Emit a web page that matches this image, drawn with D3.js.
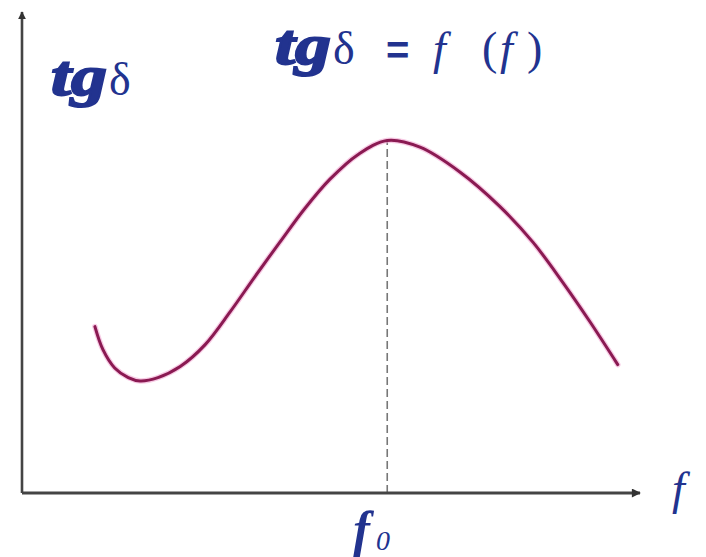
<!DOCTYPE html>
<html>
<head>
<meta charset="utf-8">
<script src="https://cdn.jsdelivr.net/npm/d3@7"></script>
<style>
  body { margin: 0; background: #fff; }
  svg { display: block; }
  .lbl { fill: #22338f; font-family: "Liberation Serif", "DejaVu Serif", serif; }
</style>
</head>
<body>
<div id="chart"></div>
<script>
// curve (arbitrary units, 0..100 on both axes)
const freq = [11.8, 13.1, 15.0, 17.2, 19.1, 22.0, 25.6, 29.6, 33.7, 37.7, 41.7, 45.8, 49.8, 54.4, 59.1, 64.4, 70.9, 77.3, 82.7, 87.5, 91.9, 96.4];
const tgd  = [34.6, 29.8, 26.0, 24.0, 23.3, 24.0, 26.3, 30.8, 37.7, 45.0, 52.1, 59.2, 65.2, 70.4, 73.3, 71.9, 66.7, 59.6, 52.1, 43.8, 35.6, 26.7];
const f0 = 59.1;

const data = freq.map((f, i) => ({ f: f, t: tgd[i] }));
const peak = d3.max(data, d => d.t);

const W = 706, H = 557;
const margin = { top: 12, right: 66, bottom: 64, left: 22 };

const svg = d3.select("#chart")
    .append("svg")
    .attr("width", W)
    .attr("height", H);

const x = d3.scaleLinear()
    .domain([0, 100])
    .range([margin.left, W - margin.right]);

const y = d3.scaleLinear()
    .domain([0, 100])
    .range([H - margin.bottom, margin.top]);

// arrow heads
svg.append("defs").append("marker")
    .attr("id", "arr")
    .attr("viewBox", "0 0 10 10")
    .attr("refX", 9).attr("refY", 5)
    .attr("markerWidth", 4).attr("markerHeight", 3)
    .attr("markerUnits", "strokeWidth")
    .attr("orient", "auto")
    .append("path")
    .attr("d", "M0,0 L10,5 L0,10 z")
    .attr("fill", "#333");

// dashed line at f0
svg.append("line")
    .attr("x1", x(f0)).attr("x2", x(f0))
    .attr("y1", y(0)).attr("y2", y(peak))
    .attr("stroke", "#777")
    .attr("stroke-width", 1.6)
    .attr("stroke-dasharray", "8,4");

// axes
svg.append("line")
    .attr("x1", x(0)).attr("y1", y(0))
    .attr("x2", x(0)).attr("y2", y(100))
    .attr("stroke", "#444").attr("stroke-width", 2.6)
    .attr("marker-end", "url(#arr)");

svg.append("line")
    .attr("x1", x(0)).attr("y1", y(0))
    .attr("x2", x(100)).attr("y2", y(0))
    .attr("stroke", "#444").attr("stroke-width", 3)
    .attr("marker-end", "url(#arr)");

// the curve
const line = d3.line()
    .x(d => x(d.f))
    .y(d => y(d.t))
    .curve(d3.curveCatmullRom.alpha(0.5));

svg.append("path")
    .datum(data)
    .attr("fill", "none")
    .attr("stroke", "#f2a6d2")
    .attr("stroke-width", 5.5)
    .attr("stroke-linecap", "round")
    .attr("opacity", 0.6)
    .attr("d", line);

svg.append("path")
    .datum(data)
    .attr("fill", "none")
    .attr("stroke", "#8a1a52")
    .attr("stroke-width", 3)
    .attr("stroke-linecap", "round")
    .attr("d", line);

// labels
function tg(t) {
    t.append("tspan")
        .attr("font-weight", "bold")
        .attr("font-style", "italic")
        .attr("stroke", "#22338f")
        .attr("stroke-width", 2)
        .attr("textLength", 56)
        .attr("lengthAdjust", "spacingAndGlyphs")
        .style("font-size", "58px")
        .text("tg");
}

const yl = svg.append("text")
    .attr("class", "lbl")
    .attr("x", 51).attr("y", 95)
    .style("font-size", "46px");
tg(yl);
yl.append("tspan").attr("x", 109).text("δ");

const title = svg.append("text")
    .attr("class", "lbl")
    .attr("x", 275).attr("y", 64)
    .style("font-size", "46px");
tg(title);
title.append("tspan").attr("x", 333).text("δ");
title.append("tspan").attr("x", 386).attr("font-family", "Liberation Sans, sans-serif")
    .attr("font-weight", "bold").style("font-size", "40px").text("=");
title.append("tspan").attr("x", 433).attr("font-style", "italic").text("f");
title.append("tspan").attr("x", 482).text("(");
title.append("tspan").attr("x", 500).attr("font-style", "italic").text("f");
title.append("tspan").attr("x", 527).text(")");

svg.append("text")
    .attr("class", "lbl")
    .attr("x", 672).attr("y", 504)
    .attr("font-style", "italic")
    .style("font-size", "46px")
    .text("f");

const f0l = svg.append("text")
    .attr("class", "lbl")
    .attr("x", x(f0) - 34).attr("y", 546)
    .attr("font-style", "italic")
    .style("font-size", "50px");
f0l.append("tspan").attr("font-weight", "bold").text("f");
f0l.append("tspan")
    .attr("dx", 6)
    .attr("dy", 4)
    .style("font-size", "28px")
    .text("0");
</script>
</body>
</html>
